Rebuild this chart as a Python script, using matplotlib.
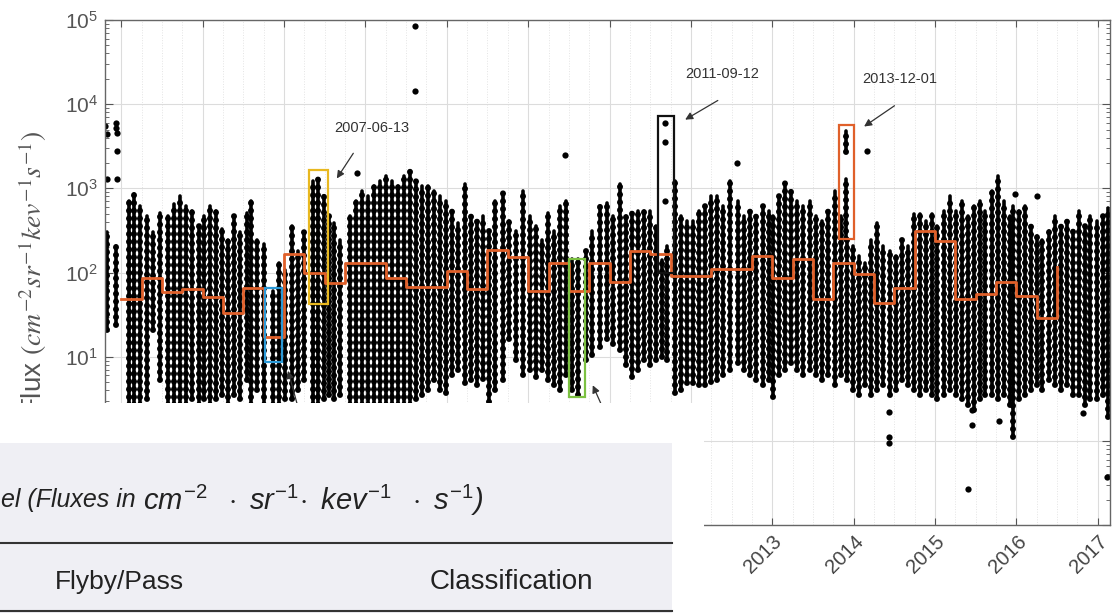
import numpy as np
import matplotlib.pyplot as plt
import matplotlib.transforms as mtransforms
from matplotlib.patches import Rectangle
from matplotlib.lines import Line2D
from matplotlib.ticker import FixedLocator, LogLocator, NullFormatter

plt.rcParams['font.family'] = ['Liberation Sans', 'DejaVu Sans']
plt.rcParams['mathtext.fontset'] = 'custom'
plt.rcParams['mathtext.rm'] = 'Liberation Sans'
plt.rcParams['mathtext.it'] = 'Liberation Sans:italic'

# dense vertical stripes of flux measurements (date, upper, lower)
stripe_year = [2004.83, 2004.94, 2005.09, 2005.16, 2005.23, 2005.31, 2005.39, 2005.48, 2005.58, 2005.65,
               2005.72, 2005.80, 2005.87, 2005.95, 2006.02, 2006.09, 2006.17, 2006.24, 2006.31, 2006.39,
               2006.46, 2006.54, 2006.60, 2006.67, 2006.76, 2006.87, 2006.94, 2007.01, 2007.10, 2007.17,
               2007.25, 2007.35, 2007.42, 2007.49, 2007.55, 2007.62, 2007.69, 2007.81, 2007.89, 2007.96,
               2008.03, 2008.11, 2008.18, 2008.25, 2008.33, 2008.40, 2008.48, 2008.55, 2008.62, 2008.70,
               2008.77, 2008.84, 2008.92, 2008.99, 2009.07, 2009.14, 2009.23, 2009.30, 2009.37, 2009.45,
               2009.52, 2009.59, 2009.69, 2009.77, 2009.85, 2009.94, 2010.02, 2010.10, 2010.17, 2010.24,
               2010.32, 2010.39, 2010.47, 2010.54, 2010.61, 2010.71, 2010.79, 2010.88, 2010.97, 2011.04,
               2011.13, 2011.20, 2011.28, 2011.35, 2011.42, 2011.50, 2011.57, 2011.64, 2011.71, 2011.80,
               2011.88, 2011.95, 2012.03, 2012.10, 2012.17, 2012.25, 2012.32, 2012.39, 2012.48, 2012.58,
               2012.65, 2012.73, 2012.80, 2012.89, 2012.96, 2013.01, 2013.08, 2013.16, 2013.23, 2013.30,
               2013.38, 2013.46, 2013.54, 2013.61, 2013.68, 2013.77, 2013.84, 2013.92, 2013.99, 2014.06,
               2014.14, 2014.21, 2014.29, 2014.36, 2014.45, 2014.52, 2014.59, 2014.67, 2014.74, 2014.81,
               2014.89, 2014.96, 2015.03, 2015.11, 2015.18, 2015.26, 2015.33, 2015.40, 2015.48, 2015.55,
               2015.62, 2015.70, 2015.77, 2015.85, 2015.92, 2015.96, 2016.03, 2016.10, 2016.18, 2016.25,
               2016.32, 2016.40, 2016.47, 2016.55, 2016.62, 2016.69, 2016.77, 2016.84, 2016.91, 2016.99,
               2017.06, 2017.12, 2013.90, 2013.90]
stripe_hi = [300, 209, 710, 860, 620, 470, 300, 510, 470, 655,
             810, 620, 540, 360, 470, 620, 540, 330, 240, 470,
             300, 510, 710, 240, 220, 61, 131, 106, 360, 182,
             300, 1230, 1290, 810, 470, 390, 240, 470, 710, 930,
             810, 1070, 1230, 1400, 1230, 1070, 1400, 1610, 1230, 1070,
             1070, 930, 810, 710, 540, 390, 1130, 470, 410, 470,
             314, 710, 890, 410, 314, 930, 470, 360, 240, 510,
             314, 620, 710, 146, 146, 182, 314, 620, 670, 470,
             1130, 470, 510, 540, 540, 540, 360, 139, 209, 1230,
             470, 410, 410, 540, 620, 810, 810, 620, 1230, 710,
             470, 540, 470, 620, 540, 470, 810, 1160, 930, 710,
             620, 710, 470, 410, 540, 930, 470, 240, 209, 159,
             131, 240, 390, 209, 182, 159, 240, 209, 500, 500,
             410, 500, 360, 540, 810, 540, 710, 470, 620, 710,
             540, 930, 1400, 710, 470, 620, 540, 620, 360, 275,
             240, 314, 470, 360, 410, 314, 540, 360, 470, 410,
             470, 580, 4800, 1290]
stripe_lo = [21, 24, 2.7, 2.7, 2.7, 3.1, 21, 5.3, 2.7, 2.7,
             2.7, 2.7, 3.1, 2.7, 3.1, 2.7, 3.1, 3.5, 2.7, 3.5,
             3.1, 5.3, 2.7, 4.0, 2.7, 2.7, 2.7, 3.1, 3.1, 4.0,
             5.3, 2.7, 2.7, 3.1, 3.5, 3.1, 3.5, 2.7, 2.7, 2.7,
             2.7, 2.7, 2.7, 2.7, 2.7, 2.7, 2.7, 2.7, 3.1, 3.5,
             4.0, 5.3, 4.0, 3.7, 6.0, 6.9, 4.9, 5.3, 4.6, 5.5,
             2.9, 4.0, 5.3, 16, 9.1, 6.0, 6.9, 5.7, 6.9, 5.3,
             4.6, 4.0, 6.0, 4.0, 3.5, 9.1, 10.4, 13, 16, 14,
             12, 7.9, 5.7, 6.9, 9.1, 7.9, 9.1, 9.8, 9.1, 3.7,
             4.0, 4.9, 4.9, 4.6, 4.6, 5.0, 5.3, 6.0, 6.9, 8.4,
             6.9, 6.0, 5.3, 4.6, 5.3, 3.3, 6.0, 6.9, 8.4, 6.9,
             6.0, 6.9, 6.0, 5.3, 6.0, 4.6, 6.0, 5.3, 4.0, 3.5,
             4.6, 3.5, 4.0, 4.6, 3.5, 4.0, 5.3, 4.6, 4.0, 3.5,
             4.0, 3.5, 3.1, 3.5, 4.0, 3.5, 3.1, 2.7, 2.3, 3.1,
             3.5, 3.5, 3.1, 3.5, 2.7, 1.1, 3.1, 3.5, 4.0, 4.6,
             4.0, 5.3, 4.6, 4.0, 4.6, 3.5, 3.5, 2.7, 3.1, 3.1,
             3.5, 1.9, 2700, 250]

# isolated points
point_year = [2004.80, 2004.82, 2004.93, 2004.94, 2004.95, 2004.95, 2004.95, 2004.82, 2007.90, 2008.61,
              2008.61, 2010.45, 2012.57, 2014.16, 2011.68, 2011.68, 2011.68, 2015.98, 2016.25, 2014.44,
              2014.44, 2014.44, 2015.40, 2015.46, 2015.46, 2015.78, 2016.82, 2017.11]
point_flux = [5500, 4400, 5960, 5200, 4540, 2780, 1290, 1290, 1530, 86000,
              14300, 2490, 2000, 2780, 5960, 3550, 711, 860, 815, 2.2,
              1.11, 0.95, 0.27, 2.33, 1.55, 1.73, 2.14, 0.375]

# orange step curve (value holds from each date to the next)
step_year = [2005.00, 2005.25, 2005.50, 2005.75, 2006.00, 2006.25, 2006.50, 2006.75, 2007.00, 2007.25,
             2007.50, 2007.75, 2008.25, 2008.50, 2009.00, 2009.25, 2009.50, 2009.75, 2010.00, 2010.25,
             2010.50, 2010.75, 2011.00, 2011.25, 2011.50, 2011.75, 2012.25, 2012.75, 2013.00, 2013.25,
             2013.50, 2013.75, 2014.00, 2014.25, 2014.50, 2014.75, 2015.00, 2015.25, 2015.50, 2015.75,
             2016.00, 2016.25, 2016.50]
step_flux = [48, 85, 58, 63, 51, 33, 65, 17, 168, 100,
             76, 131, 87, 68, 103, 63, 187, 151, 61, 128,
             61, 128, 78, 182, 168, 90, 111, 159, 87, 143,
             48, 131, 95, 43, 66, 314, 239, 49, 56, 78,
             53, 29, 115]

# highlighted passes
box_x0 = [2006.77, 2007.31, 2010.50, 2011.60, 2013.82]
box_x1 = [2006.97, 2007.54, 2010.70, 2011.79, 2014.00]
box_lo = [8.6, 42, 3.3, 100, 252]
box_hi = [66, 1660, 146, 7200, 5640]
box_colors = ['#2b9ad8', '#e8b820', '#7cc142', '#111111', '#e0602a']

ann_text = ['2007-06-13', '2011-09-12', '2013-12-01']
ann_text_xy = [(2008.08, 5200), (2012.39, 22600), (2014.57, 19800)]
ann_tail = [(2007.87, 2780), (2012.36, 11500), (2014.53, 10000), (2007.20, 2.0), (2010.98, 1.8)]
ann_head = [(2007.63, 1230), (2011.90, 6300), (2014.10, 5200), (2007.04, 7.3), (2010.78, 4.9)]

years = list(range(2005, 2018))
year_labels = [str(y) for y in years]

fig = plt.figure(figsize=(11.2, 6.13), dpi=100)
fig.patch.set_facecolor('white')
ax = fig.add_axes([105/1120, 88/613, 1005/1120, 505/613])
ax.set_yscale('log')
ax.set_xlim(2004.80, 2017.15)
ax.set_ylim(1e-1, 1e5)

ax.xaxis.set_major_locator(FixedLocator(years))
ax.xaxis.set_minor_locator(FixedLocator([y + q for y in range(2004, 2018) for q in (0.25, 0.5, 0.75)]))
ax.yaxis.set_major_locator(LogLocator(base=10, numticks=10))
ax.yaxis.set_minor_locator(LogLocator(base=10, subs=np.arange(2, 10), numticks=20))
ax.yaxis.set_minor_formatter(NullFormatter())
ax.grid(True, which='major', color='#dcdcdc', lw=0.8)
ax.grid(True, which='minor', axis='x', color='#e4e4e4', lw=0.7, ls=':')
ax.set_axisbelow(True)

ax.tick_params(axis='both', which='both', direction='in', top=True, right=True, colors='#555555')
ax.tick_params(axis='x', which='minor', length=0)
ax.tick_params(axis='x', which='major', length=5, labelsize=14.5, pad=5)
ax.tick_params(axis='y', which='major', length=6, labelsize=15, pad=5)
ax.tick_params(axis='y', which='minor', length=3)
for s in ax.spines.values():
    s.set_color('#666666')
    s.set_linewidth(1.0)

ax.set_xticklabels(year_labels, rotation=45)
shift = mtransforms.ScaledTranslation(-9/100, 0, fig.dpi_scale_trans)
for yr, lbl in zip(years, ax.get_xticklabels()):
    lbl.set_transform(lbl.get_transform() + shift)
    lbl.set_color('#444444')
    # labels left of 2013 sit under the pasted table and are not seen
    lbl.set_visible(yr >= 2013)
for lbl in ax.get_yticklabels():
    lbl.set_color('#555555')

ax.set_ylabel('Flux $(cm^{-2}sr^{-1}kev^{-1}s^{-1})$', fontsize=20, color='#555555',
              math_fontfamily='stix')
ax.yaxis.set_label_coords(-0.056, 0.5)

# solid core of each stripe plus a beaded outer layer of dots
core = ax.vlines(stripe_year, stripe_lo, stripe_hi, color='black', lw=2.6, zorder=2)
core.set_capstyle('round')
beads = ax.vlines(stripe_year, stripe_lo, stripe_hi, color='black', lw=4.3,
                  linestyles=[(0, (0.05, 1.25))], zorder=2)
beads.set_capstyle('round')
ax.plot(point_year, point_flux, 'o', ms=4.5, color='black', mec='none', zorder=2)

ax.plot(step_year, step_flux, drawstyle='steps-post', color='#e0602a', lw=2.0, zorder=4)

for x0, x1, lo, hi, c in zip(box_x0, box_x1, box_lo, box_hi, box_colors):
    ax.add_patch(Rectangle((x0, lo), x1 - x0, hi - lo, fill=False, edgecolor=c, lw=1.6, zorder=5))

for tail, head in zip(ann_tail, ann_head):
    ax.annotate('', xy=head, xytext=tail,
                arrowprops=dict(arrowstyle='-|>', color='#333333', lw=0.9, mutation_scale=11),
                zorder=6)
for t, xy in zip(ann_text, ann_text_xy):
    ax.text(xy[0], xy[1], t, fontsize=10.5, color='#333333', ha='center', va='center', zorder=6)

# overlaid table fragment
fig.add_artist(Rectangle((0, 0), 704/1120, 210/613, transform=fig.transFigure,
                         facecolor='white', edgecolor='none', zorder=10))
fig.add_artist(Rectangle((0, 0), 672/1120, 170/613, transform=fig.transFigure,
                         facecolor='#efeff4', edgecolor='none', zorder=11))
fig.add_artist(Line2D([0, 672/1120], [70/613, 70/613], transform=fig.transFigure,
                      color='#333333', lw=1.5, zorder=12))
fig.add_artist(Line2D([0, 672/1120], [2/613, 2/613], transform=fig.transFigure,
                      color='#333333', lw=1.5, zorder=12))
fig.text(1/1120, 113/613, 'el (Fluxes in', fontsize=18, style='italic', color='#222222',
         ha='left', va='center', zorder=13)
fig.text(143/1120, 113/613,
         '$cm^{-2}\\ \\ \\cdot\\ sr^{-1}\\!\\cdot\\ kev^{-1}\\ \\ \\cdot\\ s^{-1}$)',
         fontsize=21, style='italic', color='#222222', ha='left', va='center', zorder=13)
fig.text(55/1120, 31/613, 'Flyby/Pass', fontsize=19, color='#222222', ha='left', va='center', zorder=13)
fig.text(430/1120, 31/613, 'Classification', fontsize=20, color='#222222', ha='left', va='center', zorder=13)

fig.savefig('out.png', dpi=100)
